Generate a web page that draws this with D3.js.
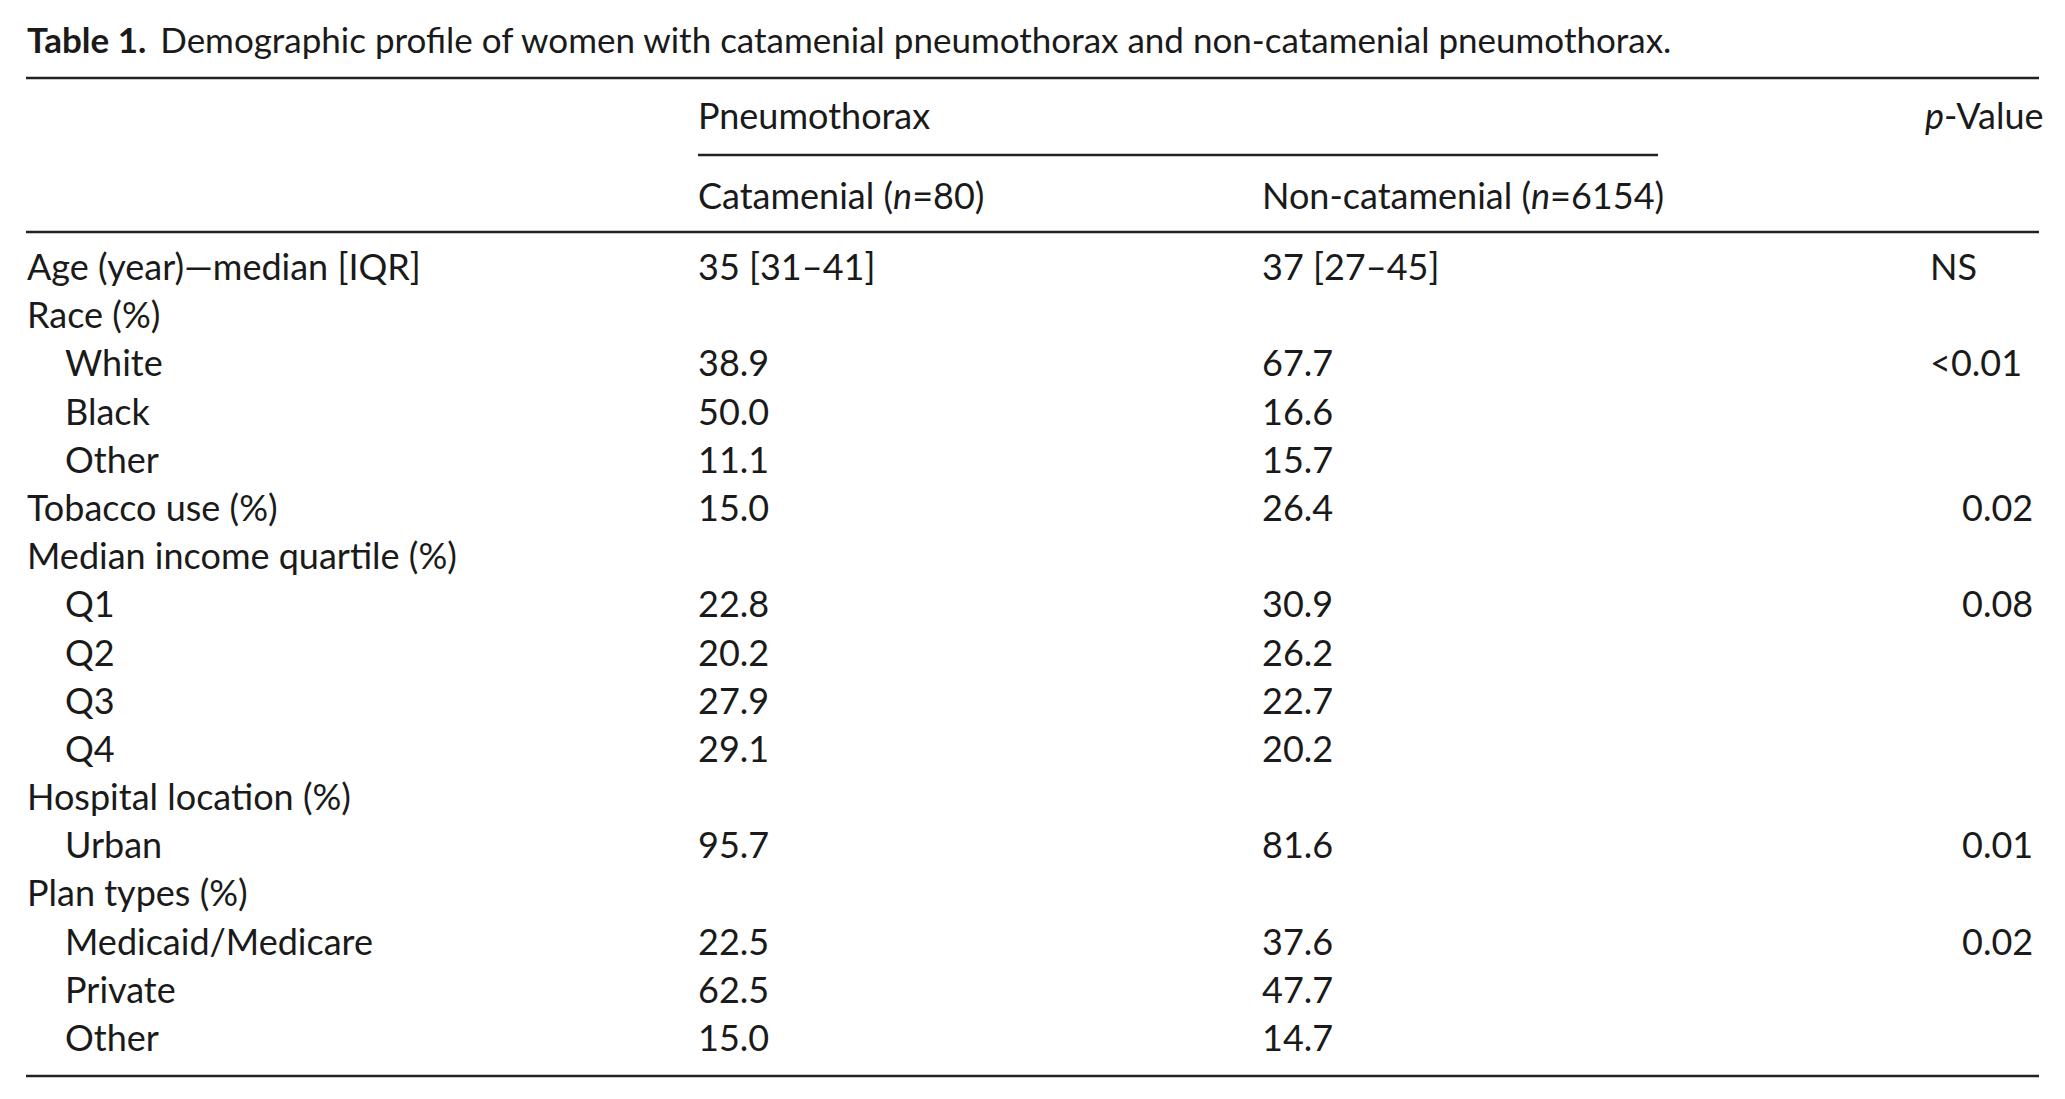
<!DOCTYPE html>
<html>
<head>
<meta charset="utf-8">
<script src="https://cdn.jsdelivr.net/npm/d3@7"></script>
<style>
  body { margin: 0; background: #fff; }
  text { font-family: Lato, "Noto Sans", sans-serif; fill: #1a1a1a; }
</style>
</head>
<body>
<div id="chart"></div>
<script>
const rowLabels = [
  'Age (year)—median [IQR]', 'Race (%)', 'White', 'Black', 'Other',
  'Tobacco use (%)', 'Median income quartile (%)', 'Q1', 'Q2', 'Q3', 'Q4',
  'Hospital location (%)', 'Urban', 'Plan types (%)', 'Medicaid/Medicare',
  'Private', 'Other'
];
const rowLevel = [0, 0, 1, 1, 1, 0, 0, 1, 1, 1, 1, 0, 1, 0, 1, 1, 1];
const catamenial = [
  '35 [31–41]', '', '38.9', '50.0', '11.1', '15.0', '', '22.8', '20.2',
  '27.9', '29.1', '', '95.7', '', '22.5', '62.5', '15.0'
];
const nonCatamenial = [
  '37 [27–45]', '', '67.7', '16.6', '15.7', '26.4', '', '30.9', '26.2',
  '22.7', '20.2', '', '81.6', '', '37.6', '47.7', '14.7'
];
const pValues = [
  'NS', '', '<0.01', '', '', '0.02', '', '0.08', '', '', '', '', '0.01',
  '', '0.02', '', ''
];
const groupHeader = 'Pneumothorax';
const colHeaders = [
  { name: 'Catamenial', n: 80 },
  { name: 'Non-catamenial', n: 6154 }
];

const width = 2065;
const height = 1099;
const fontSize = 36;

const svg = d3.select('#chart')
  .append('svg')
  .attr('width', width)
  .attr('height', height);

// Row positions (baselines)
const y = d3.scalePoint()
  .domain(d3.range(rowLabels.length))
  .range([280, 1051]);

// Column positions
const x = d3.scaleOrdinal()
  .domain(['label', 'sub', 'cat', 'non', 'p', 'pWord'])
  .range([27, 65, 698, 1262, 1962, 1930]);

const left = 26;
const right = 2039;

// Title
const title = svg.append('text')
  .attr('x', 27)
  .attr('y', 53)
  .attr('font-size', 35);
title.append('tspan').attr('font-weight', 700).text('Table 1.');
title.append('tspan').attr('dx', 14).text('Demographic profile of women with catamenial pneumothorax and non-catamenial pneumothorax.');

// Rules
const rules = [
  { x1: left, x2: right, y: 78 },
  { x1: x('cat'), x2: 1658, y: 155 },
  { x1: left, x2: right, y: 232 },
  { x1: left, x2: right, y: 1076 }
];
svg.selectAll('line.rule')
  .data(rules)
  .enter()
  .append('line')
  .attr('class', 'rule')
  .attr('x1', d => d.x1)
  .attr('x2', d => d.x2)
  .attr('y1', d => d.y)
  .attr('y2', d => d.y)
  .attr('stroke', '#222')
  .attr('stroke-width', 2.5);

// Headers
svg.append('text')
  .attr('x', x('cat'))
  .attr('y', 129)
  .attr('font-size', fontSize)
  .text(groupHeader);

const pHead = svg.append('text')
  .attr('x', 1925)
  .attr('y', 129)
  .attr('font-size', fontSize);
pHead.append('tspan').attr('font-style', 'italic').text('p');
pHead.append('tspan').text('-Value');

svg.selectAll('text.colhead')
  .data(colHeaders)
  .enter()
  .append('text')
  .attr('class', 'colhead')
  .attr('x', (d, i) => x(i === 0 ? 'cat' : 'non'))
  .attr('y', 209)
  .attr('font-size', fontSize)
  .each(function (d) {
    const t = d3.select(this);
    t.append('tspan').text(d.name + ' (');
    t.append('tspan').attr('font-style', 'italic').text('n');
    t.append('tspan').text('=' + d.n + ')');
  });

// Body rows
const rows = svg.selectAll('g.row')
  .data(rowLabels.map((label, i) => ({
    label, level: rowLevel[i], cat: catamenial[i], non: nonCatamenial[i], p: pValues[i]
  })))
  .enter()
  .append('g')
  .attr('class', 'row')
  .attr('transform', (d, i) => `translate(0,${y(i)})`)
  .attr('font-size', fontSize);

rows.append('text')
  .attr('x', d => x(d.level ? 'sub' : 'label'))
  .text(d => d.label);

rows.append('text')
  .attr('x', x('cat'))
  .text(d => d.cat);

rows.append('text')
  .attr('x', x('non'))
  .text(d => d.non);

rows.append('text')
  .attr('x', d => x(/^\d/.test(d.p) ? 'p' : 'pWord'))
  .text(d => d.p);
</script>
</body>
</html>
